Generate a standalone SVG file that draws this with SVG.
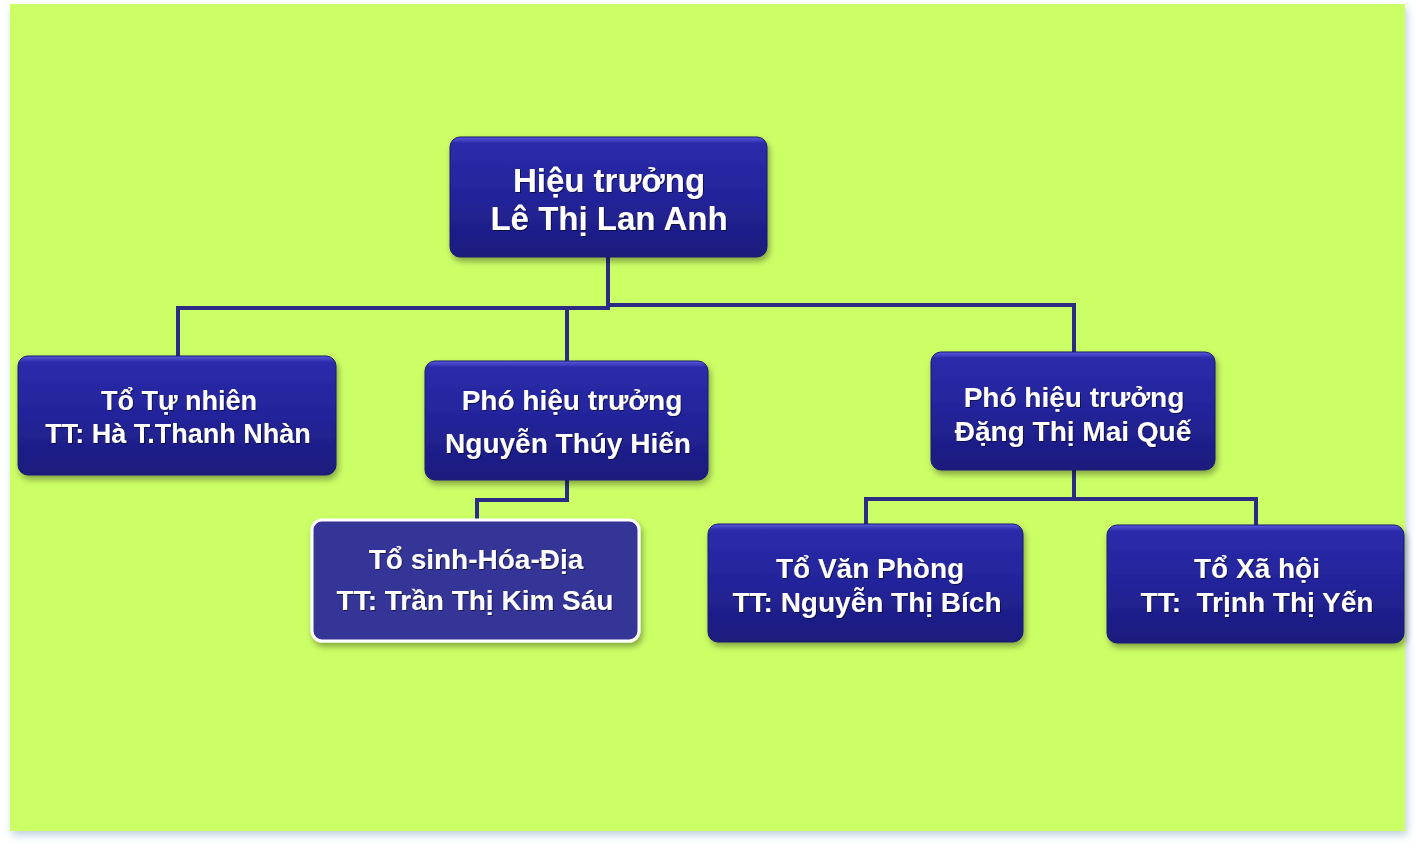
<svg xmlns="http://www.w3.org/2000/svg" width="1415" height="847" viewBox="0 0 1415 847">
<defs>
<linearGradient id="boxGrad" x1="0" y1="0" x2="0" y2="1">
<stop offset="0" stop-color="#5a5ae0"/>
<stop offset="0.05" stop-color="#2c2cab"/>
<stop offset="0.5" stop-color="#23239a"/>
<stop offset="1" stop-color="#1b1b7c"/>
</linearGradient>
<filter id="bgShadow" x="-5%" y="-5%" width="110%" height="110%">
<feDropShadow dx="2" dy="4" stdDeviation="4" flood-color="#8fb0c8" flood-opacity="0.6"/>
</filter>
<filter id="boxShadow" x="-10%" y="-10%" width="120%" height="130%">
<feDropShadow dx="2" dy="4" stdDeviation="3" flood-color="#000" flood-opacity="0.35"/>
</filter>
<filter id="txtShadow" x="-5%" y="-20%" width="110%" height="140%">
<feDropShadow dx="1" dy="1" stdDeviation="0.4" flood-color="#000000" flood-opacity="0.55"/>
</filter>
</defs>
<style>
.box{fill:url(#boxGrad);stroke:#1a1a6e;stroke-width:1;filter:url(#boxShadow)}
.box2{fill:#343498;stroke:#ffffff;stroke-width:3;filter:url(#boxShadow)}
.t{font-family:"Liberation Sans",Arial,sans-serif;font-weight:bold;fill:#ffffff;text-anchor:middle;filter:url(#txtShadow);white-space:pre}
.conn{fill:none;stroke:#2b2b86;stroke-width:4;stroke-linejoin:miter}
</style>
<rect x="10" y="4" width="1395" height="827" fill="#ccff66" filter="url(#bgShadow)"/>
<g id="connectors">
<path class="conn" d="M608,257 V308 H178 V356"/>
<path class="conn" d="M567,308 V361"/>
<path class="conn" d="M608,305 H1074 V352"/>
<path class="conn" d="M567,480 V500 H477 V520"/>
<path class="conn" d="M1074,470 V499 H866 V524"/>
<path class="conn" d="M1074,499 H1256 V525"/>
</g>
<g id="hieutruong">
<rect class="box" x="450" y="137" width="317" height="120" rx="10"/>
<text class="t" font-size="33" x="609" y="192">Hiệu trưởng</text>
<text class="t" font-size="33" x="609" y="230">Lê Thị Lan Anh</text>
</g>
<g id="totunhien">
<rect class="box" x="18" y="356" width="318" height="119" rx="10"/>
<text class="t" font-size="27" x="179" y="410">Tổ Tự nhiên</text>
<text class="t" font-size="27" x="178" y="443">TT: Hà T.Thanh Nhàn</text>
</g>
<g id="phohieutruong1">
<rect class="box" x="425" y="361" width="283" height="119" rx="10"/>
<text class="t" font-size="28" x="572" y="410">Phó hiệu trưởng</text>
<text class="t" font-size="28" x="568" y="453">Nguyễn Thúy Hiến</text>
</g>
<g id="phohieutruong2">
<rect class="box" x="931" y="352" width="284" height="118" rx="10"/>
<text class="t" font-size="28" x="1074" y="407">Phó hiệu trưởng</text>
<text class="t" font-size="28" x="1073" y="441">Đặng Thị Mai Quế</text>
</g>
<g id="tosinhhoadia">
<rect class="box2" x="312" y="520" width="327" height="121" rx="10"/>
<text class="t" font-size="28" x="476" y="569">Tổ sinh-Hóa-Địa</text>
<text class="t" font-size="28" x="475" y="610">TT: Trần Thị Kim Sáu</text>
</g>
<g id="tovanphong">
<rect class="box" x="708" y="524" width="315" height="118" rx="10"/>
<text class="t" font-size="28" x="870" y="578">Tổ Văn Phòng</text>
<text class="t" font-size="28" x="867" y="612">TT: Nguyễn Thị Bích</text>
</g>
<g id="toxahoi">
<rect class="box" x="1107" y="525" width="297" height="118" rx="10"/>
<text class="t" font-size="28" x="1257" y="578">Tổ Xã hội</text>
<text class="t" font-size="28" x="1257" y="612">TT:  Trịnh Thị Yến</text>
</g>
</svg>
